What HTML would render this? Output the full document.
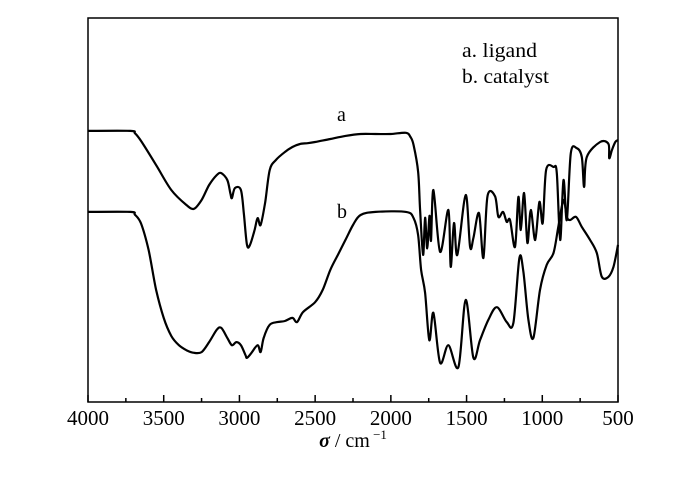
<!DOCTYPE html>
<html><head><meta charset="utf-8"><style>
body{margin:0;background:#fff}
svg{display:block}
text{font-family:"Liberation Serif",serif;fill:#000}
</style></head><body>
<svg id="chart" width="700" height="481">
<rect x="88" y="18" width="530" height="384" fill="none" stroke="#000" stroke-width="1.5"/>
<g id="ticks"></g>
<g id="curves"></g>
<text x="462" y="57" font-size="20" textLength="75" lengthAdjust="spacingAndGlyphs">a. ligand</text>
<text x="462" y="83" font-size="20" textLength="87" lengthAdjust="spacingAndGlyphs">b. catalyst</text>
<text x="337" y="121" font-size="20">a</text>
<text x="337" y="218" font-size="20">b</text>
<text x="353" y="447" font-size="20" text-anchor="middle"><tspan font-style="italic" font-weight="bold">σ</tspan> / cm<tspan dy="-8" font-size="13"> −1</tspan></text>
</svg>
<script>
const tickLabels=[4000,3500,3000,2500,2000,1500,1000,500];
const minorTicks=[3750,3250,2750,2250,1750,1250,750];
const wnA=[4000,3720,3690,3650,3550,3450,3350,3300,3250,3200,3150,3120,3080,3060,3050,3030,2990,2970,2950,2930,2900,2880,2860,2830,2800,2760,2700,2650,2600,2550,2500,2400,2300,2200,2100,2000,1900,1870,1850,1820,1807,1787,1774,1760,1745,1735,1719,1675,1620,1605,1583,1561,1506,1477,1455,1418,1389,1362,1312,1290,1259,1235,1213,1180,1158,1142,1120,1098,1076,1047,1019,997,975,926,904,882,860,838,812,772,739,724,706,618,563,558,540,518,500];
const valA=[70.6,70.6,70.0,68.0,61.7,55.2,51.3,50.3,52.6,56.5,59.1,59.6,57.8,54.4,53.1,55.7,55.2,48.7,40.9,40.9,44.8,47.9,46.1,52.0,60.4,63.0,65.1,66.4,67.2,67.4,67.7,68.5,69.3,69.8,69.8,69.8,70.1,69.0,66.9,60.0,50.0,38.3,48.0,40.0,48.5,42.0,55.2,39.1,50.0,35.2,46.6,38.3,53.9,40.4,42.7,49.2,37.5,53.6,53.6,48.2,49.5,46.9,47.4,40.4,53.4,44.8,54.4,41.4,50.0,42.2,52.1,46.6,60.4,61.2,59.6,42.2,57.8,47.4,64.8,66.1,63.8,56.0,63.8,67.7,67.2,63.5,65.6,67.7,68.2];
const wnB=[4000,3720,3690,3650,3600,3550,3500,3450,3400,3350,3300,3250,3200,3150,3120,3080,3050,3020,2990,2960,2950,2920,2880,2860,2840,2800,2750,2700,2650,2620,2580,2500,2450,2400,2350,2300,2250,2200,2100,1900,1850,1820,1800,1774,1746,1719,1675,1620,1554,1506,1455,1411,1356,1300,1235,1191,1151,1125,1092,1059,1015,971,926,894,860,838,816,777,739,684,640,607,563,530,500];
const valB=[49.5,49.5,48.8,46.5,39.6,29.2,21.9,17.2,14.8,13.5,12.8,13.0,15.6,18.8,19.3,16.7,14.8,15.6,14.8,12.2,11.5,12.8,14.8,13.0,16.7,20.1,20.8,21.1,21.9,20.8,23.4,26.0,29.2,34.4,38.3,42.2,46.1,48.7,49.5,49.5,47.9,43.5,34.4,28.4,16.1,23.2,10.2,14.8,9.1,26.6,11.5,16.1,21.4,24.7,20.8,20.6,37.5,33.9,21.4,16.7,29.2,35.7,38.8,45.6,52.6,48.2,47.4,48.2,45.6,42.2,38.8,32.6,32.6,35.2,40.9];
const X0=88,X1=618,Y0=402,Y1=18;
function xs(w){return X0+(4000-w)/3500*(X1-X0);}
function ys(v){return Y0-v/100*(Y0-Y1);}
const NS='http://www.w3.org/2000/svg';
const tg=document.getElementById('ticks');
tickLabels.forEach(function(t){
  const l=document.createElementNS(NS,'line');
  l.setAttribute('x1',xs(t));l.setAttribute('x2',xs(t));l.setAttribute('y1',Y0);l.setAttribute('y2',Y0-7);
  l.setAttribute('stroke','#000');l.setAttribute('stroke-width','1.5');
  
  
  tg.appendChild(l);
  const tx=document.createElementNS(NS,'text');
  tx.setAttribute('x',xs(t));tx.setAttribute('y',Y0+23);tx.setAttribute('font-size','21');tx.setAttribute('text-anchor','middle');
  tx.textContent=t;
  
  
  tg.appendChild(tx);
});
minorTicks.forEach(function(t){
  const l=document.createElementNS(NS,'line');
  l.setAttribute('x1',xs(t));l.setAttribute('x2',xs(t));l.setAttribute('y1',Y0);l.setAttribute('y2',Y0-4);
  l.setAttribute('stroke','#000');l.setAttribute('stroke-width','1.5');
  
  
  tg.appendChild(l);
});
function pathFor(wn,val){
  const p=wn.map(function(w,i){return [xs(w),ys(val[i])];});
  let d='M'+p[0][0].toFixed(1)+','+p[0][1].toFixed(1);
  for(let i=0;i<p.length-1;i++){
    const a=p[Math.max(0,i-1)],b=p[i],c=p[i+1],e=p[Math.min(p.length-1,i+2)];
    const t=0.16;
    const c1=[b[0]+(c[0]-a[0])*t,b[1]+(c[1]-a[1])*t];
    const c2=[c[0]-(e[0]-b[0])*t,c[1]-(e[1]-b[1])*t];
    d+='C'+c1[0].toFixed(1)+','+c1[1].toFixed(1)+' '+c2[0].toFixed(1)+','+c2[1].toFixed(1)+' '+c[0].toFixed(1)+','+c[1].toFixed(1);
  }
  return d;
}
const cg=document.getElementById('curves');
const pa=document.createElementNS(NS,'path');
pa.setAttribute('d',pathFor(wnA,valA));
pa.setAttribute('fill','none');pa.setAttribute('stroke','#000');pa.setAttribute('stroke-width','2.2');pa.setAttribute('stroke-linejoin','round');


cg.appendChild(pa);
const pb=document.createElementNS(NS,'path');
pb.setAttribute('d',pathFor(wnB,valB));
pb.setAttribute('fill','none');pb.setAttribute('stroke','#000');pb.setAttribute('stroke-width','2.2');pb.setAttribute('stroke-linejoin','round');


cg.appendChild(pb);
</script>
</body></html>
